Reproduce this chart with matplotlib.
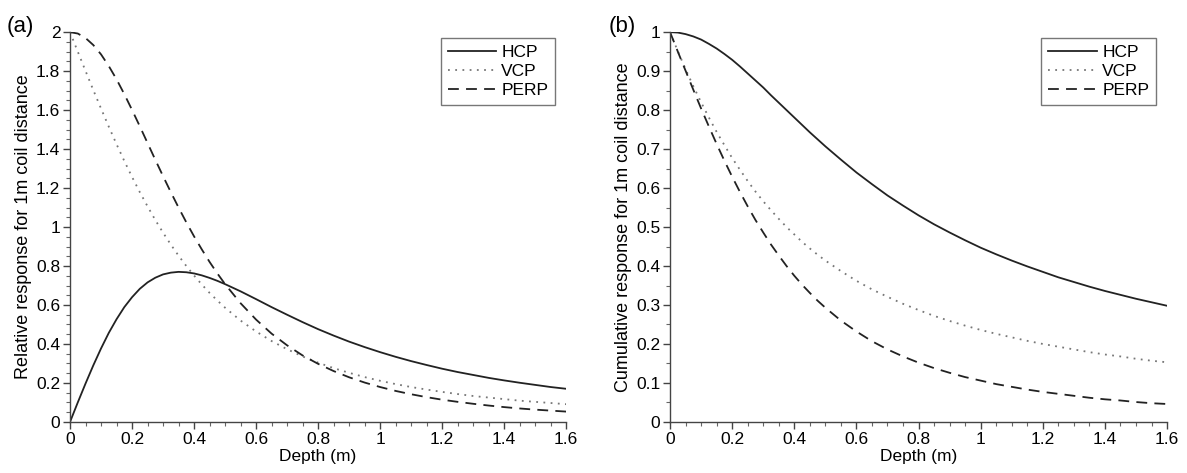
import matplotlib
matplotlib.use("Agg")
import matplotlib.pyplot as plt
from matplotlib.ticker import MultipleLocator, FuncFormatter

plt.rcParams['font.family'] = ['Liberation Sans', 'DejaVu Sans']

# Depth samples (m) read along the x axis (denser where the curves bend)
depth = [0.000, 0.025, 0.050, 0.075, 0.100, 0.125, 0.150, 0.175, 0.200, 0.225,
         0.250, 0.275, 0.300, 0.325, 0.350, 0.375, 0.400, 0.425, 0.450, 0.475,
         0.50, 0.55, 0.60, 0.65, 0.70, 0.75, 0.80, 0.85, 0.90, 0.95, 1.00,
         1.05, 1.10, 1.15, 1.20, 1.25, 1.30, 1.35, 1.40, 1.45, 1.50,
         1.55, 1.60]

# (a) relative response
rel_hcp = [0.000, 0.100, 0.197, 0.290, 0.377, 0.457, 0.527, 0.589, 0.640, 0.683,
           0.716, 0.740, 0.757, 0.766, 0.770, 0.768, 0.762, 0.752, 0.739, 0.724,
           0.707, 0.670, 0.630, 0.589, 0.550, 0.512, 0.476, 0.443, 0.412, 0.384, 0.358,
           0.334, 0.312, 0.292, 0.273, 0.256, 0.241, 0.226, 0.213, 0.201, 0.190,
           0.179, 0.170]
rel_vcp = [2.000, 1.900, 1.801, 1.703, 1.608, 1.515, 1.425, 1.339, 1.257, 1.179,
           1.106, 1.036, 0.971, 0.910, 0.853, 0.800, 0.751, 0.705, 0.662, 0.623,
           0.586, 0.520, 0.464, 0.415, 0.373, 0.336, 0.304, 0.276, 0.252, 0.230, 0.211,
           0.194, 0.179, 0.166, 0.154, 0.143, 0.133, 0.125, 0.117, 0.109, 0.103,
           0.097, 0.091]
rel_perp = [2.000, 1.993, 1.970, 1.934, 1.886, 1.826, 1.758, 1.682, 1.601, 1.517,
            1.431, 1.345, 1.261, 1.179, 1.100, 1.024, 0.952, 0.885, 0.821, 0.762,
            0.707, 0.609, 0.525, 0.453, 0.393, 0.341, 0.298, 0.261, 0.229, 0.202, 0.179,
            0.159, 0.142, 0.127, 0.114, 0.103, 0.093, 0.084, 0.076, 0.069, 0.063,
            0.058, 0.053]

# (b) cumulative response
cum_hcp = [1.000, 0.999, 0.995, 0.989, 0.981, 0.970, 0.958, 0.944, 0.929, 0.912,
           0.894, 0.876, 0.858, 0.838, 0.819, 0.800, 0.781, 0.762, 0.743, 0.725,
           0.707, 0.673, 0.640, 0.610, 0.581, 0.555, 0.530, 0.507, 0.486, 0.466, 0.447,
           0.430, 0.414, 0.399, 0.385, 0.371, 0.359, 0.347, 0.336, 0.326, 0.316,
           0.307, 0.298]
cum_vcp = [1.000, 0.951, 0.905, 0.861, 0.820, 0.781, 0.744, 0.710, 0.677, 0.647,
           0.618, 0.591, 0.566, 0.543, 0.521, 0.500, 0.481, 0.462, 0.445, 0.429,
           0.414, 0.387, 0.362, 0.340, 0.321, 0.303, 0.287, 0.272, 0.259, 0.247, 0.236,
           0.226, 0.217, 0.208, 0.200, 0.193, 0.186, 0.179, 0.173, 0.168, 0.162,
           0.157, 0.153]
cum_perp = [1.000, 0.950, 0.901, 0.852, 0.804, 0.758, 0.713, 0.670, 0.629, 0.590,
            0.553, 0.518, 0.486, 0.455, 0.427, 0.400, 0.375, 0.352, 0.331, 0.311,
            0.293, 0.260, 0.232, 0.207, 0.186, 0.168, 0.152, 0.138, 0.126, 0.115, 0.106,
            0.097, 0.090, 0.083, 0.077, 0.072, 0.067, 0.062, 0.058, 0.055, 0.051,
            0.048, 0.046]

labels = ['HCP', 'VCP', 'PERP']

fig = plt.figure(figsize=(11.87, 4.73), dpi=100)
ax1 = fig.add_axes([0.059, 0.108, 0.418, 0.824])
ax2 = fig.add_axes([0.5645, 0.108, 0.4187, 0.824])

fmt = FuncFormatter(lambda v, p: '%g' % round(v, 2))


def style_axes(ax, ymax, ymajor, ylabel):
    ax.set_xlim(0, 1.6)
    ax.set_ylim(0, ymax)
    ax.xaxis.set_major_locator(MultipleLocator(0.2))
    ax.xaxis.set_minor_locator(MultipleLocator(0.05))
    ax.yaxis.set_major_locator(MultipleLocator(ymajor))
    ax.yaxis.set_minor_locator(MultipleLocator(0.05))
    ax.xaxis.set_major_formatter(fmt)
    ax.yaxis.set_major_formatter(fmt)
    for side in ['top', 'right']:
        ax.spines[side].set_visible(False)
    for side in ['left', 'bottom']:
        ax.spines[side].set_color('#444444')
        ax.spines[side].set_linewidth(1.0)
    ax.tick_params(which='major', direction='out', length=5, width=1.0,
                   color='#444444', labelsize=12.5, pad=2)
    ax.tick_params(which='minor', direction='out', length=3, width=0.8,
                   color='#666666')
    ax.set_xlabel('Depth (m)', fontsize=12.5, labelpad=2)
    ax.set_ylabel(ylabel, fontsize=13, labelpad=3)
    leg = ax.legend(loc='upper right', bbox_to_anchor=(0.978, 0.985),
                    fancybox=False, framealpha=1, edgecolor='#777777',
                    fontsize=12.5, handlelength=2.8, handletextpad=0.3,
                    borderpad=0.4, labelspacing=0.22, borderaxespad=0)
    leg.get_frame().set_linewidth(1.0)


ax1.plot(depth, rel_hcp, color='#222222', lw=1.3, label=labels[0])
ax1.plot(depth, rel_vcp, color='#777777', lw=1.3, linestyle=(0, (1, 3)), label=labels[1])
ax1.plot(depth, rel_perp, color='#222222', lw=1.3, linestyle=(0, (6, 4)), label=labels[2])
style_axes(ax1, 2, 0.2, 'Relative response for 1m coil distance')

ax2.plot(depth, cum_hcp, color='#222222', lw=1.3, label=labels[0])
ax2.plot(depth, cum_vcp, color='#777777', lw=1.3, linestyle=(0, (1, 3)), label=labels[1])
ax2.plot(depth, cum_perp, color='#222222', lw=1.3, linestyle=(0, (6, 4)), label=labels[2])
style_axes(ax2, 1, 0.1, 'Cumulative response for 1m coil distance')

fig.text(0.006, 0.945, '(a)', fontsize=16, va='center', ha='left')
fig.text(0.513, 0.945, '(b)', fontsize=16, va='center', ha='left')

fig.savefig('out.png', dpi=100)
